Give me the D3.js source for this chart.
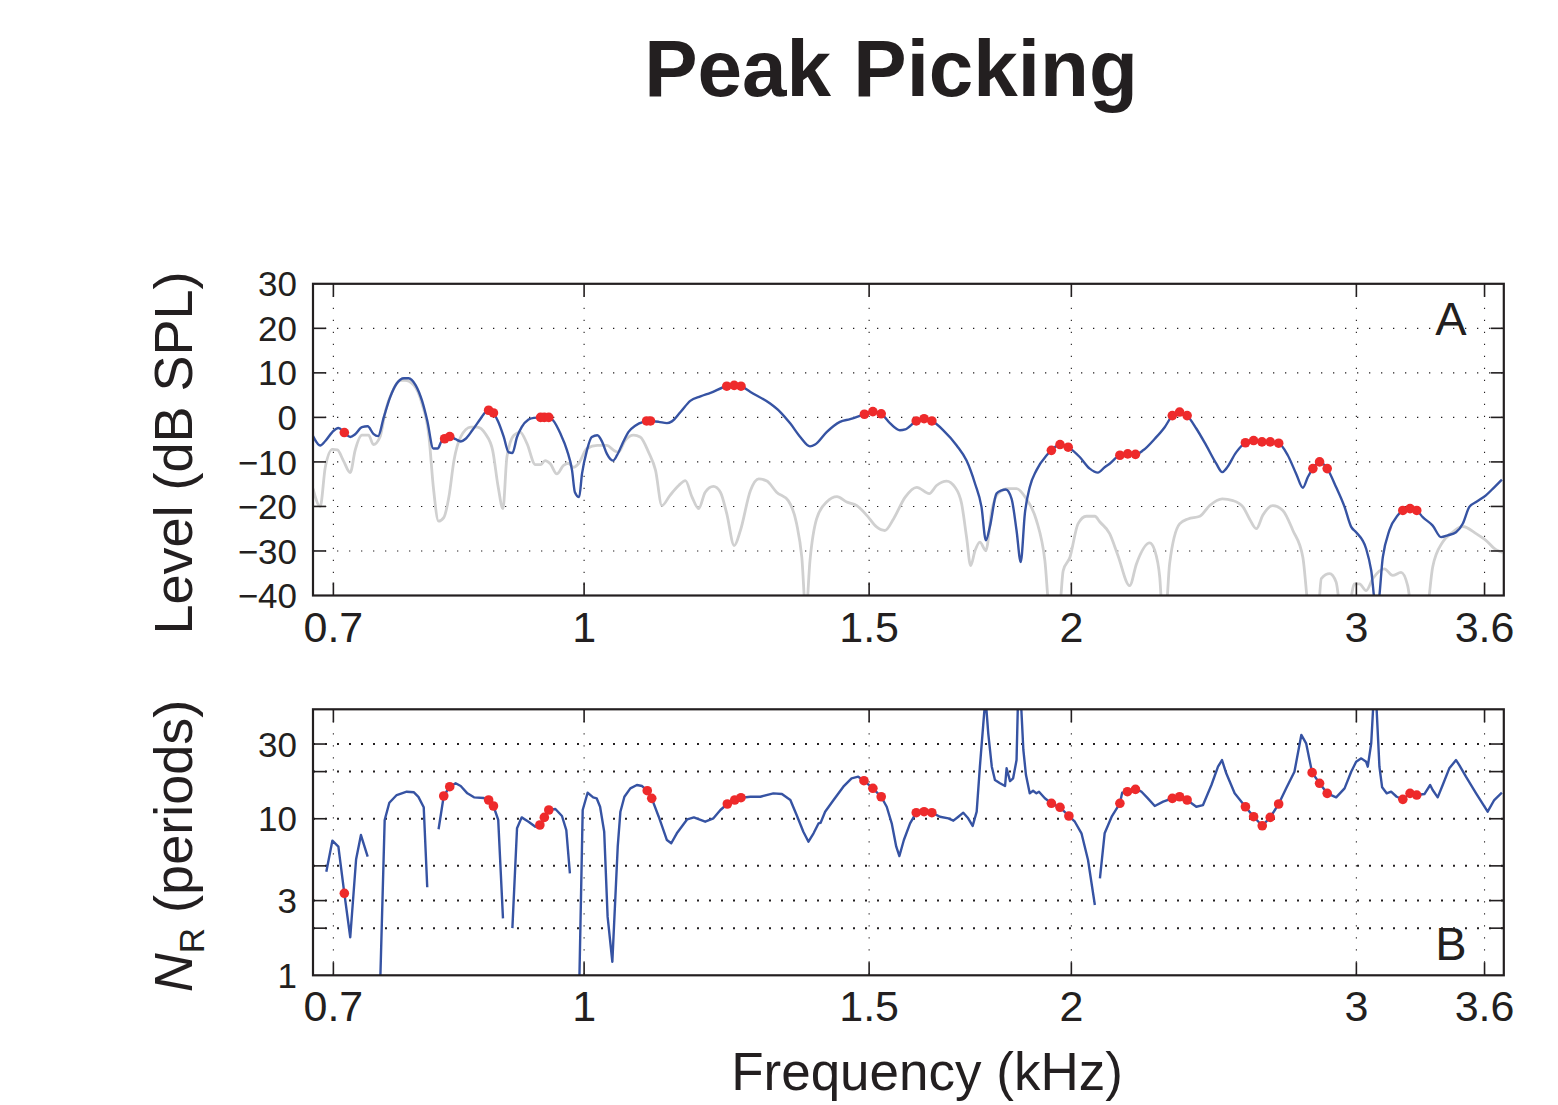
<!DOCTYPE html>
<html>
<head>
<meta charset="utf-8">
<script src="https://cdn.jsdelivr.net/npm/d3@7"></script>
<style>
  body { margin: 0; background: #fff; }
  text { font-family: "Liberation Sans", Arial, Helvetica, sans-serif; fill: #231f20; }
</style>
</head>
<body>
<svg id="fig" width="1558" height="1105"></svg>
<script>
// Frequency ticks (kHz), shared by both panels
const freqTicks = [0.7, 1, 1.5, 2, 3, 3.6];
// Panel A: level ticks (dB SPL)
const levelTicks = [30, 20, 10, 0, -10, -20, -30, -40];
// Panel B: grid lines and labelled ticks (periods)
const nrGridTicks = [30, 20, 10, 5, 3, 2];
const nrLabelTicks = [30, 10, 3, 1];

// Panel A, blue: level of the analysed component, [kHz, dB SPL]
const levelBlue = [
  [0.680,-4.2],[0.687,-6.3],[0.692,-5.3],[0.699,-3.3],[0.705,-2.4],[0.711,-3.4],[0.717,-4.4],
  [0.722,-3.8],[0.729,-2.2],[0.735,-2.0],[0.741,-3.7],[0.746,-4.2],[0.752,0],[0.759,4.6],
  [0.766,7.6],[0.774,8.8],[0.779,8.8],[0.787,7.2],[0.794,3.8],[0.800,-0.7],[0.807,-7.0],
  [0.812,-7.0],[0.816,-5.5],[0.820,-4.8],[0.826,-4.3],[0.833,-4.9],[0.839,-5.4],[0.845,-4.8],
  [0.853,-2.9],[0.863,-0.3],[0.869,1.2],[0.873,1.6],[0.879,1.0],[0.885,-1.0],[0.892,-4.4],
  [0.898,-7.8],[0.903,-8.0],[0.909,-4.4],[0.915,-2.2],[0.924,-0.5],[0.931,-0.1],[0.940,0],
  [0.951,0],[0.957,-0.7],[0.967,-3.7],[0.976,-7.4],[0.983,-11.9],[0.987,-16.8],[0.993,-17.9],
  [0.997,-12.7],[1.004,-7.4],[1.011,-4.4],[1.019,-4.0],[1.026,-5.5],[1.033,-8.2],[1.042,-9.7],
  [1.048,-8.5],[1.056,-5.9],[1.065,-3.3],[1.076,-1.8],[1.088,-1.0],[1.096,-0.8],[1.112,-1.0],
  [1.125,-1.3],[1.133,-0.9],[1.147,1.2],[1.163,3.7],[1.180,4.7],[1.197,5.5],[1.225,7.0],
  [1.238,7.2],[1.250,7.0],[1.267,5.7],[1.303,3.1],[1.322,1.2],[1.341,-1.4],[1.360,-4.4],
  [1.379,-6.5],[1.389,-6.1],[1.412,-3.3],[1.439,-1.0],[1.460,-0.4],[1.490,0.7],[1.508,1.3],
  [1.526,0.8],[1.545,-1.3],[1.567,-2.9],[1.579,-2.7],[1.604,-0.8],[1.622,-0.3],[1.640,-0.8],
  [1.667,-2.9],[1.699,-6.3],[1.723,-9.7],[1.744,-14.9],[1.760,-20.1],[1.771,-27.6],[1.781,-24.6],
  [1.798,-17.1],[1.811,-16.4],[1.822,-16.2],[1.837,-18.3],[1.850,-25.4],[1.861,-32.5],[1.872,-21.6],
  [1.885,-15.7],[1.903,-11.9],[1.931,-8.5],[1.944,-7.4],[1.968,-6.1],[1.991,-6.7],[2.024,-8.9],
  [2.053,-11.5],[2.077,-12.4],[2.097,-11.2],[2.112,-10.4],[2.143,-8.5],[2.167,-8.2],[2.191,-8.3],
  [2.215,-7.4],[2.252,-4.8],[2.284,-2.2],[2.309,0.4],[2.333,1.2],[2.358,0.4],[2.389,-2.5],
  [2.423,-6.3],[2.458,-10.4],[2.479,-12.3],[2.493,-11.5],[2.529,-7.8],[2.562,-5.7],[2.592,-5.2],
  [2.623,-5.5],[2.654,-5.5],[2.686,-5.8],[2.721,-8.5],[2.754,-12.7],[2.780,-15.8],[2.800,-13.4],
  [2.820,-11.5],[2.847,-10.0],[2.878,-11.5],[2.915,-15.7],[2.950,-20.1],[2.978,-24.6],[2.999,-25.8],
  [3.042,-29.5],[3.064,-34.4],[3.083,-42],[3.093,-42],[3.115,-31.4],[3.144,-25.4],[3.182,-22.0],
  [3.205,-20.9],[3.238,-20.5],[3.269,-20.9],[3.297,-22.4],[3.344,-24.3],[3.384,-26.9],[3.416,-26.5],
  [3.457,-25.8],[3.490,-23.9],[3.523,-20.1],[3.557,-19.0],[3.607,-17.5],[3.650,-15.7],[3.690,-14.0]
];

// Panel A, grey: level of the residual, [kHz, dB SPL]
const levelGray = [
  [0.680,-16.0],[0.687,-20.0],[0.692,-11.2],[0.699,-7.2],[0.704,-7.3],[0.710,-9.7],[0.717,-12.4],
  [0.722,-7.4],[0.729,-4.0],[0.736,-4.0],[0.741,-6.1],[0.748,-4.4],[0.754,1.6],[0.761,5.7],
  [0.770,8.3],[0.775,8.3],[0.785,7.2],[0.794,3.1],[0.802,-4.4],[0.807,-15.7],[0.813,-23.3],
  [0.819,-22.5],[0.825,-17.9],[0.831,-9.7],[0.839,-4.4],[0.851,-2.2],[0.859,-2.2],[0.869,-3.7],
  [0.878,-7.4],[0.885,-15.7],[0.891,-20.5],[0.896,-8.9],[0.905,-4.0],[0.913,-3.3],[0.922,-5.9],
  [0.933,-10.6],[0.940,-10.6],[0.946,-9.7],[0.953,-10.4],[0.962,-12.7],[0.971,-10.8],[0.978,-10.3],
  [0.985,-11.2],[0.992,-10.4],[1.004,-7.0],[1.019,-6.3],[1.033,-6.3],[1.043,-7.4],[1.050,-7.8],
  [1.060,-5.2],[1.073,-4.0],[1.083,-4.4],[1.096,-7.8],[1.107,-11.9],[1.117,-19.8],[1.130,-17.5],
  [1.144,-15.3],[1.155,-14.2],[1.166,-17.9],[1.177,-20.5],[1.188,-16.8],[1.202,-15.5],[1.214,-16.8],
  [1.225,-21.6],[1.238,-28.8],[1.249,-25.4],[1.267,-16.4],[1.282,-13.8],[1.297,-14.3],[1.315,-16.8],
  [1.337,-18.7],[1.353,-23.9],[1.363,-31.4],[1.371,-44],[1.379,-32.1],[1.392,-22.8],[1.412,-19.0],
  [1.433,-17.8],[1.453,-19.0],[1.474,-19.8],[1.495,-22.0],[1.516,-24.6],[1.534,-25.4],[1.553,-22.8],
  [1.579,-17.9],[1.605,-15.7],[1.634,-17.1],[1.651,-15.3],[1.675,-14.3],[1.695,-15.7],[1.711,-19.4],
  [1.723,-26.9],[1.733,-33.3],[1.744,-29.9],[1.756,-28.0],[1.771,-29.9],[1.786,-20.9],[1.802,-17.1],
  [1.828,-16.0],[1.850,-16.0],[1.876,-18.3],[1.903,-23.1],[1.926,-32.1],[1.940,-44],[1.965,-44],
  [1.977,-34.4],[1.996,-31.4],[2.019,-23.9],[2.043,-22.2],[2.068,-22.2],[2.083,-23.5],[2.112,-26.1],
  [2.137,-31.0],[2.173,-37.8],[2.194,-32.9],[2.236,-28.2],[2.252,-29.9],[2.268,-35.9],[2.277,-44],
  [2.287,-44],[2.300,-32.9],[2.333,-23.9],[2.361,-22.8],[2.401,-22.2],[2.435,-19.8],[2.479,-18.3],
  [2.517,-18.7],[2.553,-20.1],[2.577,-22.8],[2.602,-25.0],[2.626,-22.0],[2.664,-19.8],[2.702,-20.9],
  [2.741,-25.4],[2.780,-31.4],[2.807,-44],[2.840,-44],[2.854,-36.2],[2.888,-35.1],[2.915,-37.0],
  [2.936,-44],[2.963,-44],[2.992,-37.4],[3.013,-37.4],[3.042,-38.9],[3.071,-36.2],[3.122,-34.0],
  [3.159,-35.5],[3.197,-34.8],[3.227,-37.8],[3.250,-44],[3.313,-44],[3.344,-33.6],[3.392,-28.0],
  [3.440,-25.8],[3.490,-24.5],[3.557,-26.1],[3.607,-27.6],[3.659,-29.7],[3.694,-30.3]
];

// Panel A, picked peaks, [kHz, dB SPL]
const levelPeaks = [
  [0.711,-3.4],[0.820,-4.8],[0.826,-4.3],[0.873,1.6],[0.879,1.0],[0.940,0],[0.945,0],[0.951,0],
  [1.093,-0.8],[1.099,-0.8],[1.225,7.0],[1.238,7.2],[1.250,7.0],[1.490,0.7],[1.508,1.3],[1.526,0.8],
  [1.604,-0.8],[1.622,-0.3],[1.640,-0.8],[1.944,-7.4],[1.968,-6.1],[1.991,-6.7],[2.143,-8.5],
  [2.167,-8.2],[2.191,-8.3],[2.309,0.4],[2.333,1.2],[2.358,0.4],[2.562,-5.7],[2.592,-5.2],
  [2.623,-5.5],[2.654,-5.5],[2.686,-5.8],[2.820,-11.5],[2.847,-10.0],[2.878,-11.5],[3.205,-20.9],
  [3.238,-20.5],[3.269,-20.9]
];

// Panel B, blue: N_R in periods, [kHz, periods]; null breaks the trace
const nrBlue = [
  [0.693,4.59],[0.699,7.24],[0.705,6.63],[0.711,3.34],[0.717,1.75],[0.723,5.51],[0.728,7.87],[0.735,5.72],
  [0.741,null],
  [0.748,0.8],[0.753,9.82],[0.758,12.65],[0.766,14.17],[0.777,14.88],[0.785,14.75],[0.790,13.8],
  [0.796,11.83],[0.800,3.65],
  [0.806,null],
  [0.813,8.56],[0.819,13.97],[0.826,16.02],[0.833,16.84],[0.839,16.18],[0.847,14.53],[0.855,13.7],
  [0.867,13.56],[0.873,13.17],[0.879,12.06],[0.885,9.82],[0.891,2.31],
  [0.897,null],
  [0.903,2.0],[0.909,8.69],[0.915,10.2],[0.924,9.57],[0.933,8.89],[0.939,9.12],[0.945,10.2],
  [0.951,11.37],[0.960,11.54],[0.969,10.41],[0.975,8.47],[0.980,4.48],
  [0.987,null],
  [0.993,0.8],[0.998,11.37],[1.005,14.66],[1.013,13.7],[1.018,13.5],[1.023,11.93],[1.029,8.26],
  [1.034,2.37],[1.041,1.22],[1.049,6.63],[1.053,11.09],[1.059,13.82],[1.068,15.64],[1.078,16.42],
  [1.086,16.18],[1.094,15.1],[1.101,13.5],[1.112,10.3],[1.125,7.31],[1.132,6.97],[1.141,8.07],
  [1.158,9.92],[1.169,10.2],[1.188,9.57],[1.202,10.06],[1.214,11.37],[1.226,12.42],[1.239,13.17],
  [1.250,13.62],[1.267,13.82],[1.285,13.82],[1.309,14.53],[1.325,14.38],[1.341,13.17],[1.353,10.56],
  [1.366,8.26],[1.376,7.13],[1.386,8.07],[1.396,9.35],[1.400,9.43],[1.409,11.09],[1.426,13.17],
  [1.446,16.02],[1.463,18.12],[1.477,18.56],[1.489,17.5],[1.508,15.64],[1.526,13.82],[1.538,11.93],
  [1.549,9.35],[1.559,6.63],[1.566,5.78],[1.576,7.31],[1.590,9.35],[1.604,10.93],[1.622,11.09],
  [1.640,10.93],[1.659,10.3],[1.679,10.06],[1.691,9.72],[1.703,10.3],[1.715,10.93],[1.727,10.06],
  [1.738,8.99],[1.748,11.09],[1.756,21.5],[1.764,38.7],[1.770,60],[1.777,35.1],[1.786,21.5],
  [1.794,17.67],[1.807,16.84],[1.820,16.18],[1.824,20.99],[1.833,17.4],[1.841,18.12],[1.850,23.7],
  [1.854,60],[1.861,60],[1.868,27.5],[1.875,19.0],[1.885,14.53],[1.894,15.1],[1.903,14.53],
  [1.910,14.88],[1.926,13.5],[1.944,12.55],[1.968,11.83],[1.993,10.41],[2.010,9.57],[2.029,8.07],
  [2.048,5.45],[2.068,2.81],
  [2.075,null],
  [2.083,4.16],[2.097,8.07],[2.118,10.3],[2.143,12.55],[2.150,14.66],[2.166,14.88],[2.191,15.41],
  [2.210,14.88],[2.230,13.5],[2.252,12.06],[2.279,12.85],[2.309,13.5],[2.333,13.82],[2.358,13.17],
  [2.389,11.93],[2.412,12.23],[2.441,16.42],[2.464,21.5],[2.478,23.7],[2.493,19.5],[2.523,14.53],
  [2.562,11.93],[2.592,10.3],[2.624,9.02],[2.654,10.2],[2.686,12.42],[2.715,15.64],[2.747,19.97],
  [2.774,34.3],[2.793,30.3],[2.817,19.7],[2.847,16.84],[2.878,14.53],[2.915,13.7],[2.950,15.64],
  [2.978,19.97],[2.999,23.1],[3.021,24.3],[3.042,23.1],[3.049,21.5],[3.064,30.3],[3.075,60],
  [3.085,60],[3.100,21.5],[3.112,15.87],[3.132,14.53],[3.152,14.88],[3.177,13.82],[3.205,13.3],
  [3.238,14.53],[3.269,14.17],[3.305,14.38],[3.332,16.42],[3.344,15.25],[3.368,13.7],[3.392,16.42],
  [3.424,20.99],[3.457,23.7],[3.473,22.0],[3.506,18.56],[3.557,14.53],[3.616,11.09],[3.650,13.17],
  [3.690,14.66]
];

// Panel B, picked peaks, [kHz, periods]
const nrPeaks = [
  [0.711,3.34],[0.819,13.97],[0.826,16.02],[0.873,13.17],[0.879,12.06],[0.939,9.12],[0.945,10.2],
  [0.951,11.37],[1.094,15.1],[1.101,13.5],[1.226,12.42],[1.239,13.17],[1.250,13.62],[1.489,17.5],
  [1.508,15.64],[1.526,13.82],[1.604,10.93],[1.622,11.09],[1.640,10.93],[1.944,12.55],[1.968,11.83],
  [1.993,10.41],[2.143,12.55],[2.166,14.88],[2.191,15.41],[2.309,13.5],[2.333,13.82],[2.358,13.17],
  [2.562,11.93],[2.592,10.3],[2.624,9.02],[2.654,10.2],[2.686,12.42],[2.817,19.7],[2.847,16.84],
  [2.878,14.53],[3.205,13.3],[3.238,14.53],[3.269,14.17]
];

const INK = "#231f20";
const BLUE = "#3653a3";
const GREY = "#d0d0d0";
const RED = "#ee2a2b";

const svg = d3.select("#fig");

// Title
svg.append("text")
  .attr("x", 891).attr("y", 96)
  .attr("text-anchor", "middle")
  .attr("font-size", 80).attr("font-weight", "bold")
  .text("Peak Picking");

const x = d3.scaleLog().domain([0.68, 3.7]).range([313, 1503.8]);

function panel(cfg) {
  const { y, top, bottom, id } = cfg;
  const g = svg.append("g");
  const left = x.range()[0], right = x.range()[1];

  g.append("clipPath").attr("id", id)
    .append("rect").attr("x", left).attr("y", top)
    .attr("width", right - left).attr("height", bottom - top);

  // dotted grid
  const grid = g.append("g").attr("stroke", INK).attr("fill", "none");
  grid.selectAll("line.h").data(cfg.gridY).join("line")
    .attr("x1", left).attr("x2", right)
    .attr("y1", d => y(d)).attr("y2", d => y(d))
    .attr("stroke-width", cfg.gridW).attr("stroke-dasharray", cfg.gridDash);
  grid.selectAll("line.v").data(freqTicks).join("line")
    .attr("x1", d => x(d)).attr("x2", d => x(d))
    .attr("y1", top).attr("y2", bottom)
    .attr("stroke-width", 1.1).attr("stroke-dasharray", "1.3 10.7");

  const plot = g.append("g").attr("clip-path", `url(#${id})`);
  cfg.draw(plot);

  // frame and inward ticks on all four sides
  const axes = g.append("g").attr("stroke", INK).attr("fill", "none");
  const TL = 13;
  axes.selectAll("line.xb").data(freqTicks).join("line")
    .attr("x1", d => x(d)).attr("x2", d => x(d)).attr("y1", bottom).attr("y2", bottom - TL)
    .attr("stroke-width", 1.6);
  axes.selectAll("line.xt").data(freqTicks).join("line")
    .attr("x1", d => x(d)).attr("x2", d => x(d)).attr("y1", top).attr("y2", top + TL)
    .attr("stroke-width", 1.6);
  axes.selectAll("line.yl").data(cfg.tickY).join("line")
    .attr("x1", left).attr("x2", left + TL).attr("y1", d => y(d)).attr("y2", d => y(d))
    .attr("stroke-width", 1.6);
  axes.selectAll("line.yr").data(cfg.tickY).join("line")
    .attr("x1", right).attr("x2", right - TL).attr("y1", d => y(d)).attr("y2", d => y(d))
    .attr("stroke-width", 1.6);
  axes.append("rect").attr("x", left).attr("y", top)
    .attr("width", right - left).attr("height", bottom - top)
    .attr("stroke-width", 2.2);

  // tick labels
  g.selectAll("text.yl").data(cfg.labelY).join("text")
    .attr("x", left - 16).attr("y", d => y(d)).attr("dy", "0.36em")
    .attr("text-anchor", "end").attr("font-size", 35)
    .text(d => d3.format("d")(d));
  g.selectAll("text.xl").data(freqTicks).join("text")
    .attr("x", d => x(d)).attr("y", bottom + 46)
    .attr("text-anchor", "middle").attr("font-size", 43)
    .text(d => d);

  // panel letter
  g.append("text").attr("x", 1451).attr("y", cfg.letterY)
    .attr("text-anchor", "middle").attr("font-size", 47)
    .text(cfg.letter);
  return g;
}

// Panel A: level
const yA = d3.scaleLinear().domain([-40, 30]).range([595.5, 283.8]);
const lineA = d3.line().x(d => x(d[0])).y(d => yA(d[1])).curve(d3.curveMonotoneX);
panel({
  id: "clipA", y: yA, top: 283.8, bottom: 595.5,
  gridY: [20, 10, 0, -10, -20, -30], gridW: 1.1, gridDash: "1.3 10.7",
  tickY: [20, 10, 0, -10, -20, -30], labelY: levelTicks,
  letter: "A", letterY: 335,
  draw: p => {
    p.append("path").datum(levelGray).attr("d", lineA)
      .attr("fill", "none").attr("stroke", GREY).attr("stroke-width", 2.8);
    p.append("path").datum(levelBlue).attr("d", lineA)
      .attr("fill", "none").attr("stroke", BLUE).attr("stroke-width", 2.4);
    p.selectAll("circle").data(levelPeaks).join("circle")
      .attr("cx", d => x(d[0])).attr("cy", d => yA(d[1])).attr("r", 4.8)
      .attr("fill", RED);
  }
});

// Panel B: N_R
const yB = d3.scaleLog().domain([1, 50]).range([975.3, 709.3]);
const lineB = d3.line().defined(d => d[1] != null)
  .x(d => x(d[0])).y(d => yB(d[1]));
panel({
  id: "clipB", y: yB, top: 709.3, bottom: 975.3,
  gridY: nrGridTicks, gridW: 2, gridDash: "2 10",
  tickY: nrGridTicks, labelY: nrLabelTicks,
  letter: "B", letterY: 960,
  draw: p => {
    p.append("path").datum(nrBlue).attr("d", lineB)
      .attr("fill", "none").attr("stroke", BLUE).attr("stroke-width", 2.4)
      .attr("stroke-linejoin", "round");
    p.selectAll("circle").data(nrPeaks).join("circle")
      .attr("cx", d => x(d[0])).attr("cy", d => yB(d[1])).attr("r", 4.8)
      .attr("fill", RED);
  }
});

// Axis titles
svg.append("text")
  .attr("transform", "translate(192,453) rotate(-90)")
  .attr("text-anchor", "middle").attr("font-size", 54)
  .text("Level (dB SPL)");

const nrTitle = svg.append("text")
  .attr("transform", "translate(192,846) rotate(-90)")
  .attr("text-anchor", "middle").attr("font-size", 54);
nrTitle.append("tspan").attr("font-style", "italic").text("N");
nrTitle.append("tspan").attr("font-size", 35).attr("dy", 12).text("R");
nrTitle.append("tspan").attr("dy", -12).text(" (periods)");

svg.append("text")
  .attr("x", 927).attr("y", 1090)
  .attr("text-anchor", "middle").attr("font-size", 53)
  .text("Frequency (kHz)");
</script>
</body>
</html>
